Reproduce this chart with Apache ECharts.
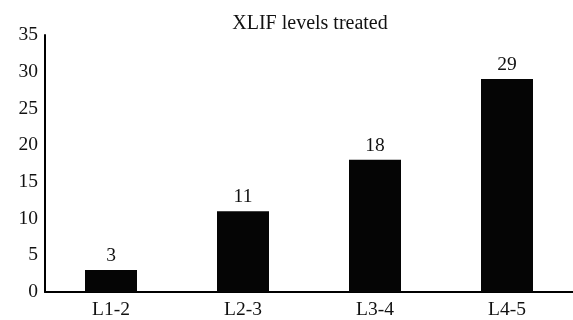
<!DOCTYPE html>
<html>
<head>
<meta charset="utf-8">
<script src="https://cdn.jsdelivr.net/npm/echarts@6/dist/echarts.min.js"></script>
<style>
  html, body { margin: 0; padding: 0; background: #fff; }
  #chart { width: 573px; height: 320px; }
</style>
</head>
<body>
<div id="chart"></div>
<script>
// data
const levels = ['L1-2', 'L2-3', 'L3-4', 'L4-5'];
const counts = [3, 11, 18, 29];
const yTicks = [0, 5, 10, 15, 20, 25, 30, 35];

const font = 'Liberation Serif';
const chart = echarts.init(document.getElementById('chart'));

chart.setOption({
  backgroundColor: '#fff',
  animation: false,
  title: {
    text: 'XLIF levels treated',
    left: 305,
    textAlign: 'center',
    top: 9,
    textStyle: { fontFamily: font, fontSize: 20, fontWeight: 'normal', color: '#111' },
  },
  grid: { left: 45, right: 0, top: 35, bottom: 27, containLabel: false },
  xAxis: {
    type: 'category',
    data: levels,
    axisLine: { lineStyle: { color: '#000', width: 2 } },
    axisTick: { show: false },
    axisLabel: { fontFamily: font, fontSize: 19.5, color: '#111', margin: 8 },
  },
  yAxis: {
    type: 'value',
    min: yTicks[0],
    max: yTicks[yTicks.length - 1],
    interval: 5,
    axisLine: { show: true, lineStyle: { color: '#000', width: 2 } },
    axisTick: { show: false },
    splitLine: { show: false },
    axisLabel: { fontFamily: font, fontSize: 19.5, color: '#111', margin: 7 },
  },
  series: [
    {
      type: 'bar',
      data: counts,
      barWidth: 52,
      itemStyle: { color: '#050505' },
      label: {
        show: true,
        position: 'top',
        distance: 4,
        fontFamily: font,
        fontSize: 19.5,
        color: '#111',
      },
    },
  ],
});
</script>
</body>
</html>
